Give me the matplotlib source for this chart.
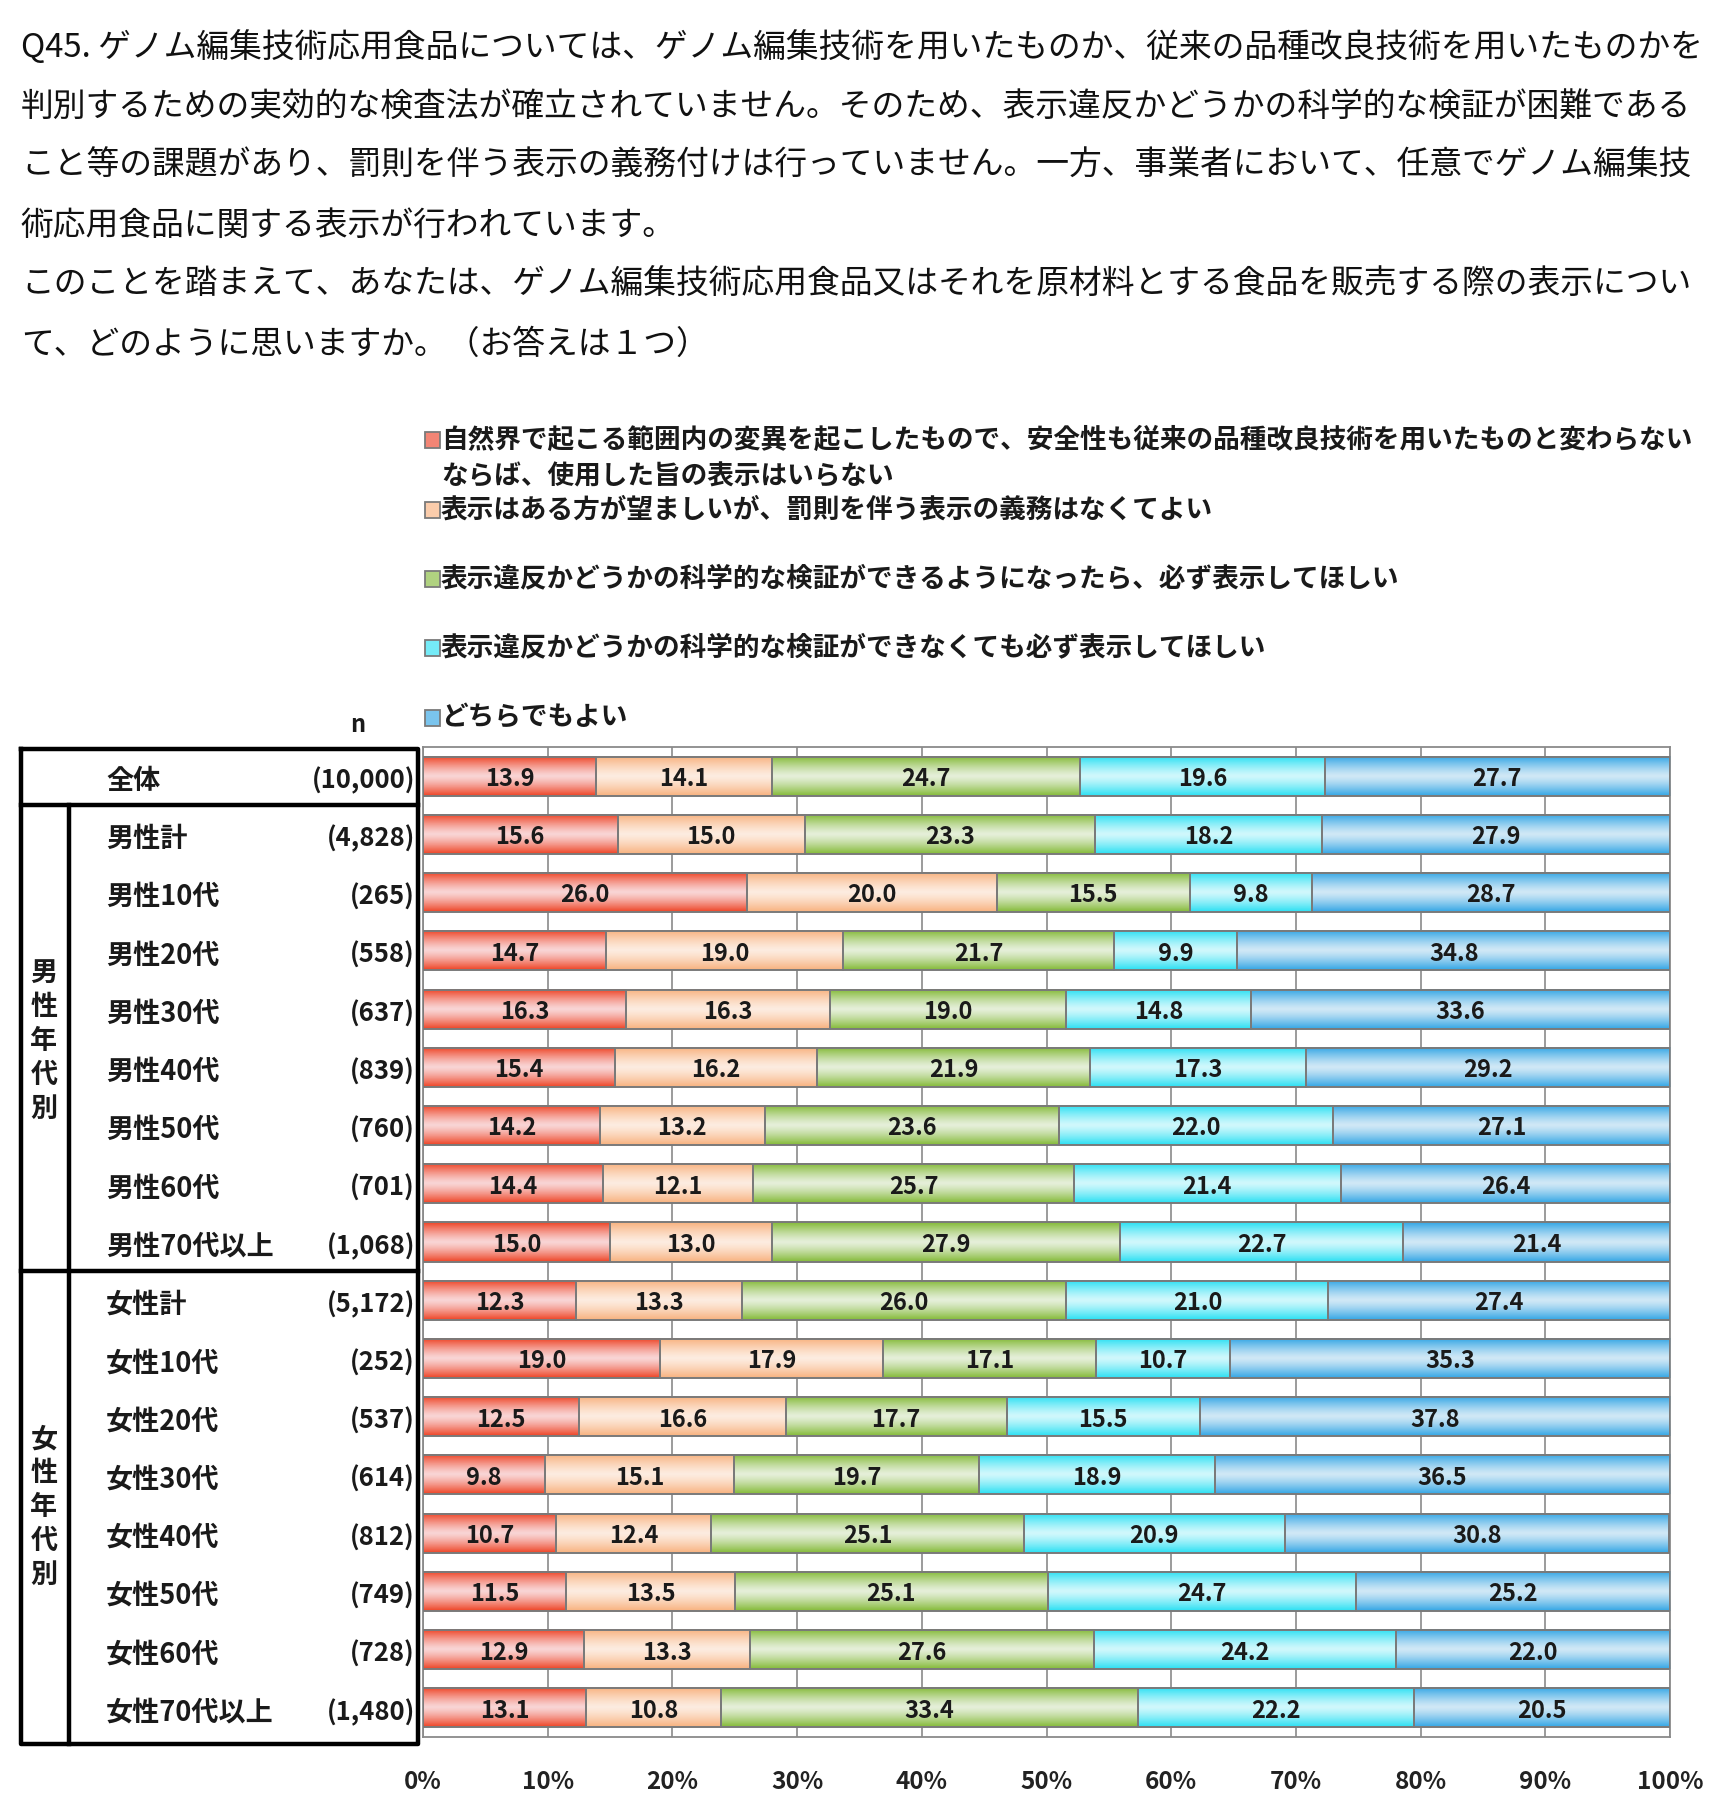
import numpy as np
import matplotlib
matplotlib.use("Agg")
import matplotlib.pyplot as plt
from matplotlib.patches import Rectangle
from matplotlib.colors import to_rgb

plt.rcParams['font.family'] = ['Noto Sans CJK JP', 'DejaVu Sans']

# ---- data ----
row_labels = ['全体', '男性計', '男性10代', '男性20代', '男性30代', '男性40代', '男性50代',
              '男性60代', '男性70代以上', '女性計', '女性10代', '女性20代', '女性30代',
              '女性40代', '女性50代', '女性60代', '女性70代以上']
n_labels = ['(10,000)', '(4,828)', '(265)', '(558)', '(637)', '(839)', '(760)', '(701)',
            '(1,068)', '(5,172)', '(252)', '(537)', '(614)', '(812)', '(749)', '(728)',
            '(1,480)']

no_label_needed = [13.9, 15.6, 26.0, 14.7, 16.3, 15.4, 14.2, 14.4, 15.0,
                   12.3, 19.0, 12.5, 9.8, 10.7, 11.5, 12.9, 13.1]
label_no_penalty = [14.1, 15.0, 20.0, 19.0, 16.3, 16.2, 13.2, 12.1, 13.0,
                    13.3, 17.9, 16.6, 15.1, 12.4, 13.5, 13.3, 10.8]
label_if_testable = [24.7, 23.3, 15.5, 21.7, 19.0, 21.9, 23.6, 25.7, 27.9,
                     26.0, 17.1, 17.7, 19.7, 25.1, 25.1, 27.6, 33.4]
label_always = [19.6, 18.2, 9.8, 9.9, 14.8, 17.3, 22.0, 21.4, 22.7,
                21.0, 10.7, 15.5, 18.9, 20.9, 24.7, 24.2, 22.2]
either_ok = [27.7, 27.9, 28.7, 34.8, 33.6, 29.2, 27.1, 26.4, 21.4,
             27.4, 35.3, 37.8, 36.5, 30.8, 25.2, 22.0, 20.5]

series = [no_label_needed, label_no_penalty, label_if_testable, label_always, either_ok]
legend_labels = [
    '自然界で起こる範囲内の変異を起こしたもので、安全性も従来の品種改良技術を用いたものと変わらない\nならば、使用した旨の表示はいらない',
    '表示はある方が望ましいが、罰則を伴う表示の義務はなくてよい',
    '表示違反かどうかの科学的な検証ができるようになったら、必ず表示してほしい',
    '表示違反かどうかの科学的な検証ができなくても必ず表示してほしい',
    'どちらでもよい',
]
question = [
    'Q45. ゲノム編集技術応用食品については、ゲノム編集技術を用いたものか、従来の品種改良技術を用いたものかを',
    '判別するための実効的な検査法が確立されていません。そのため、表示違反かどうかの科学的な検証が困難である',
    'こと等の課題があり、罰則を伴う表示の義務付けは行っていません。一方、事業者において、任意でゲノム編集技',
    '術応用食品に関する表示が行われています。',
    'このことを踏まえて、あなたは、ゲノム編集技術応用食品又はそれを原材料とする食品を販売する際の表示につい',
    'て、どのように思いますか。（お答えは１つ）',
]

# gradient colours per series: (edge tone, centre tone)
dark_cols = ['#ee4426', '#f8b27f', '#84ba38', '#2be0f3', '#33a6e5']
light_cols = ['#f9d5d5', '#fdece0', '#e5efd9', '#d0f8fc', '#d0e8f6']

W, H = 1732, 1818
fig = plt.figure(figsize=(W / 100, H / 100), dpi=100)


def fy(px):
    return 1 - px / H


def fx(px):
    return px / W


# question text
for i, line in enumerate(question):
    fig.text(fx(21), fy(47 + i * 59.5), line, fontsize=23.6, va='center', ha='left',
             color='#111111')

# main axes
ax_l, ax_r, ax_t, ax_b = 423, 1670, 747, 1737
ax = fig.add_axes([fx(ax_l), fy(ax_b), (ax_r - ax_l) / W, (ax_b - ax_t) / H])
nrows = len(row_labels)
ypos = np.arange(nrows)
bar_h = 0.67

t = np.linspace(0, 1, 64)
prof = np.abs(2 * t - 1) ** 1.3

left = np.zeros(nrows)
for k, vals in enumerate(series):
    d = np.array(to_rgb(dark_cols[k]))
    l = np.array(to_rgb(light_cols[k]))
    grad = (l[None, :] + (d - l)[None, :] * prof[:, None])[:, None, :]
    for i in range(nrows):
        x0 = left[i]
        w = vals[i]
        x1 = min(x0 + w, 100)
        ax.imshow(grad, extent=(x0, x1, ypos[i] + bar_h / 2, ypos[i] - bar_h / 2),
                  origin='upper', aspect='auto', interpolation='bilinear', zorder=2)
        ax.add_patch(Rectangle((x0, ypos[i] - bar_h / 2), x1 - x0, bar_h, fill=False,
                               edgecolor='#7a7a7a', lw=1.4, zorder=3))
        ax.text((x0 + x1) / 2, ypos[i] + 0.05, f'{w:.1f}', ha='center', va='center',
                fontsize=17, fontweight='bold', color='#1a1a1a', zorder=4)
    left = left + np.array(vals)

ax.set_xlim(0, 100)
ax.set_ylim(nrows - 0.5, -0.5)
ax.set_xticks(np.arange(0, 101, 10))
ax.set_xticklabels([f'{v}%' for v in range(0, 101, 10)], fontsize=17.5, fontweight='bold')
ax.set_yticks([])
ax.tick_params(axis='x', length=0, pad=24, colors='#222222')
ax.xaxis.grid(True, color='#8a8a8a', lw=1.2, zorder=0)
ax.set_axisbelow(True)
for s in ax.spines.values():
    s.set_color('#8a8a8a')
    s.set_linewidth(1.3)

# left table
axt = fig.add_axes([0, fy(ax_b), fx(ax_l), (ax_b - ax_t) / H])
axt.set_xlim(0, ax_l)
axt.set_ylim(nrows - 0.5, -0.5)
axt.axis('off')
lk = dict(color='black', lw=3.2, clip_on=False, solid_capstyle='projecting')
tl, tr = 21, 418
top_y, bot_y = -0.47, 16.62
axt.plot([tl, tr, tr, tl, tl], [top_y, top_y, bot_y, bot_y, top_y], **lk)
axt.plot([tl, tr], [0.5, 0.5], **lk)
axt.plot([tl, tr], [8.5, 8.5], **lk)
axt.plot([69, 69], [0.5, bot_y], **lk)

for i in range(nrows):
    axt.text(106, ypos[i] + 0.08, row_labels[i], ha='left', va='center', fontsize=19.5,
             fontweight='bold', color='#1a1a1a')
    axt.text(415, ypos[i] + 0.08, n_labels[i], ha='right', va='center', fontsize=18.5,
             fontweight='bold', color='#1a1a1a')
axt.text(44, 4.55, '男\n性\n年\n代\n別', ha='center', va='center', fontsize=19.5,
         fontweight='bold', linespacing=1.27, color='#1a1a1a')
axt.text(44, 12.55, '女\n性\n年\n代\n別', ha='center', va='center', fontsize=19.5,
         fontweight='bold', linespacing=1.27, color='#1a1a1a')
fig.text(fx(358), fy(725), 'n', ha='center', va='center', fontsize=17,
         fontweight='bold', color='#1a1a1a')

# legend (small swatches with grey border)
leg_y = [440, 510, 579, 648, 718]
for k, lab in enumerate(legend_labels):
    sq = 15
    mid = 0.55 * np.array(to_rgb(dark_cols[k])) + 0.45 * np.array(to_rgb(light_cols[k]))
    fig.patches.append(Rectangle((fx(425), fy(leg_y[k] + sq / 2)), sq / W, sq / H,
                                 transform=fig.transFigure, facecolor=mid,
                                 edgecolor='#7a7a7a', lw=1.3))
    fig.text(fx(441), fy(leg_y[k]), lab.split('\n')[0], ha='left', va='center',
             fontsize=19.2, fontweight='bold', color='#1a1a1a')
    if '\n' in lab:
        fig.text(fx(441), fy(leg_y[k] + 37), lab.split('\n')[1], ha='left',
                 va='center', fontsize=19.2, fontweight='bold', color='#1a1a1a')

fig.savefig('out.png', dpi=100, facecolor='white')
